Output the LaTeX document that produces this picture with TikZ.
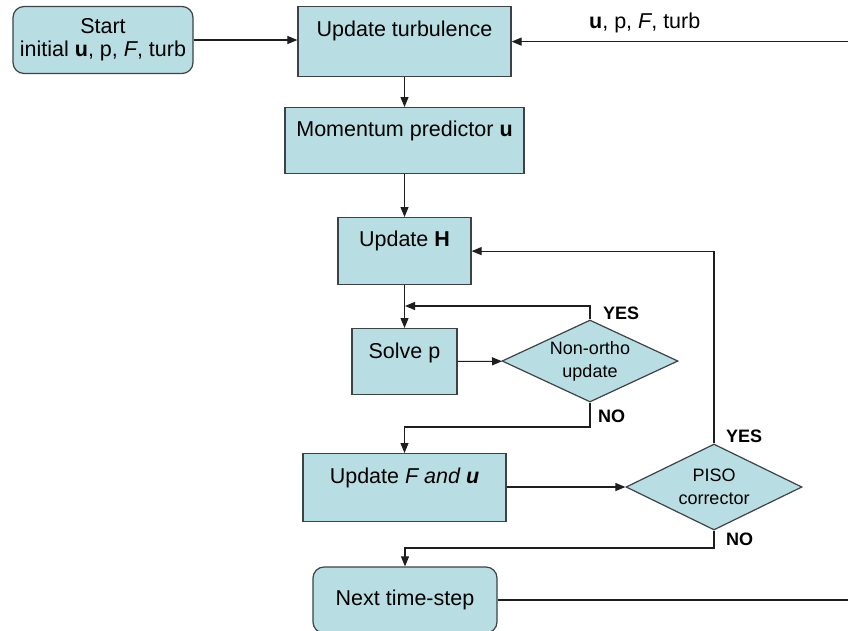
\documentclass[tikz,border=0pt]{standalone}
\usepackage{fontspec}
\setmainfont{Liberation Sans}
\usetikzlibrary{shapes.geometric,arrows.meta}
\definecolor{boxfill}{RGB}{184,222,227}
\definecolor{boxline}{RGB}{60,66,70}
\definecolor{wire}{RGB}{30,30,30}
\begin{document}
\begin{tikzpicture}[x=1pt,y=-1pt,
  box/.style={draw=boxline, fill=boxfill, line width=1.2pt, inner sep=0pt,
    font=\fontsize{21.5}{23}\selectfont},
  tbox/.style n args={3}{box, anchor=north, minimum width=#1,
    text height=#2, text depth=#3},
  rbox/.style={box, rounded corners=11pt, align=center},
  dec/.style={box, diamond, aspect=2.1, align=center,
    font=\fontsize{18}{23}\selectfont},
  flow/.style={draw=wire, line width=1.1pt, -{Triangle[length=10pt,width=8pt]}},
  tag/.style={font=\bfseries\fontsize{18}{20}\selectfont, anchor=base west, inner sep=0pt}]
\useasboundingbox (0,0) rectangle (848,630);

% process boxes
\node[rbox, minimum width=180pt, minimum height=67pt] (start) at (103,40)
  {Start\\initial \textbf{u}, p, \textit{F}, turb};
\node[tbox={213pt}{30pt}{40pt}] (turb) at (404.5,6) {Update turbulence};
\node[tbox={239pt}{29pt}{37pt}] (mom) at (404.5,107) {Momentum predictor \textbf{u}};
\node[tbox={133pt}{29pt}{38pt}] (H) at (404.5,217) {Update \textbf{H}};
\node[tbox={105pt}{30pt}{36pt}] (solve) at (404.5,328) {Solve p};
\node[tbox={203pt}{30pt}{38pt}] (F) at (404.5,453) {Update \textit{F and \textbf{u}}};
\node[rbox, minimum width=184pt, minimum height=66pt] (next) at (405,600) {Next time-step};

% decisions
\node[dec, minimum width=176pt, minimum height=82pt] (no) at (590,361) {Non-ortho\\update};
\node[dec, minimum width=176pt, minimum height=86pt] (piso) at (714,487) {PISO\\corrector};

% helper points
\coordinate (rc) at (858,600);
\coordinate (j1) at (405,306);
\coordinate (k1) at (590,427);
\coordinate (k2) at (714,548);

% connectors
\draw[flow] (start.east) -- (start.east -| turb.west);
\draw[flow] (next.east) -- (next.east -| rc) |- (turb.east);
\draw[flow] (turb) -- (mom);
\draw[flow] (mom) -- (H);
\draw[flow] (H) -- (solve);
\draw[flow] (solve) -- (no);
\draw[flow] (no.north) |- (j1);
\draw[flow] (no.south) -- (no.south |- k1) -| (F.north);
\draw[flow] (F.east |- piso.west) -- (piso.west);
\draw[flow] (piso.north) |- (H.east);
\draw[flow] (piso.south) -- (piso.south |- k2) -| (next.north);

% labels
\node[anchor=base west, inner sep=0pt, font=\fontsize{21.5}{23}\selectfont] (vars) at (589,28)
  {\textbf{u}, p, \textit{F}, turb};
\node[tag] (yes1) at (603,319) {YES};
\node[tag] (no1) at (598,422) {NO};
\node[tag] (yes2) at (726,442) {YES};
\node[tag] (no2) at (726,545.5) {NO};
\end{tikzpicture}
\end{document}
